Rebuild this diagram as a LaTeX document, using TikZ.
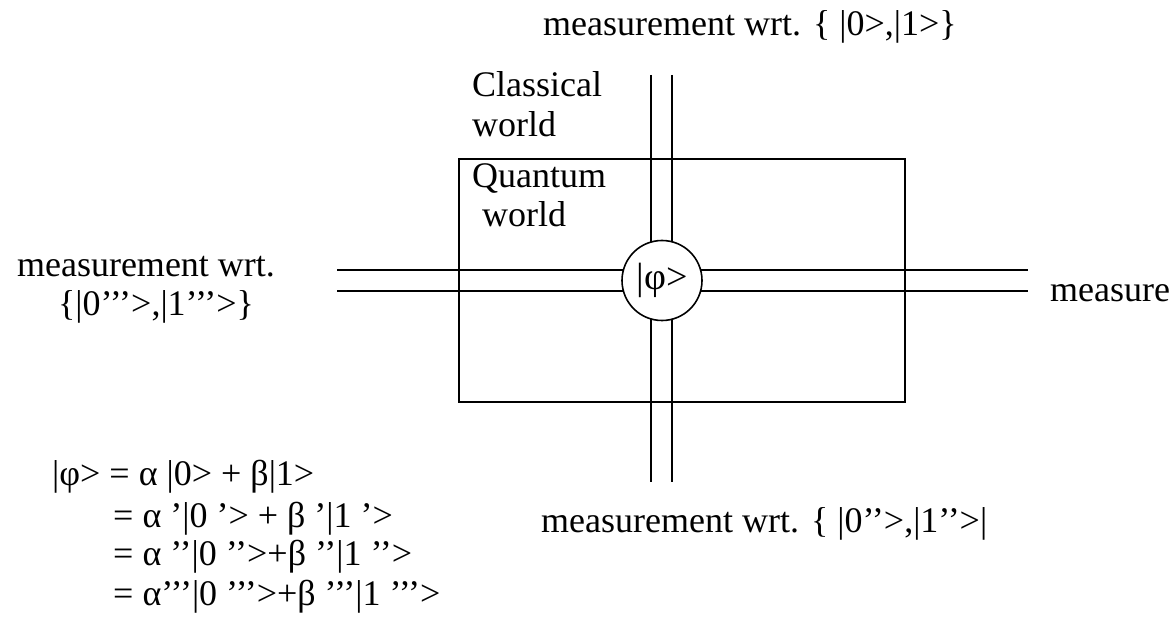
\documentclass[tikz,border=0pt]{standalone}
\usepackage{fontspec}
\setmainfont{Liberation Serif}
\begin{document}
\begin{tikzpicture}[x=1pt,y=-1pt,
  txt/.style={inner sep=0pt, anchor=base west, font=\fontsize{36}{40}\selectfont},
  ctxt/.style={inner sep=0pt, anchor=base, font=\fontsize{36}{40}\selectfont},
  wire/.style={line width=1.6pt, black},
  world/.style={draw, line width=1.6pt, inner sep=0pt, anchor=north west},
  ket/.style={circle, draw, fill=white, line width=1.6pt, minimum size=80pt, inner sep=0pt, font=\fontsize{38}{40}\selectfont}]
\useasboundingbox (0,0) rectangle (1169,617);
% quantum world box
\node[world, minimum width=446pt, minimum height=243pt] (qbox) at (458,158) {};
% wires
\coordinate (vt1) at (651,75);  \coordinate (vb1) at (651,482);
\coordinate (vt2) at (672,75);  \coordinate (vb2) at (672,482);
\coordinate (hl1) at (337,270); \coordinate (hr1) at (1028,270);
\coordinate (hl2) at (337,291); \coordinate (hr2) at (1028,291);
\draw[wire] (vt1) -- (vb1);
\draw[wire] (vt2) -- (vb2);
\draw[wire] (hl1) -- (hr1);
\draw[wire] (hl2) -- (hr2);
% state
\node[ket] (phi) at (662,280.5) {|φ>};
% labels
\node[txt] (top) at (543,36) {measurement wrt. \{ |0>,|1>\}};
\node[txt] (bot) at (541,532) {measurement wrt. \{ |0’’>,|1’’>|};
\node[ctxt] (left1) at (146,277) {measurement wrt.};
\node[ctxt] (left2) at (156,316) {\{|0’’’>,|1’’’>\}};
\node[txt] (right) at (1050,302) {measure};
\node[txt] (cw1) at (472,97) {Classical};
\node[txt] (cw2) at (472,137) {world};
\node[txt] (qw1) at (472,188) {Quantum};
\node[txt] (qw2) at (482,227) {world};
% equations
\node[txt] (eq1) at (52,485) {|φ> = α |0> + β|1>};
\node[txt] (eq2) at (113,527) {= α ’|0 ’> + β ’|1 ’>};
\node[txt] (eq3) at (113,565) {= α ’’|0 ’’>+β ’’|1 ’’>};
\node[txt] (eq4) at (113,605) {= α’’’|0 ’’’>+β ’’’|1 ’’’>};
\end{tikzpicture}
\end{document}
